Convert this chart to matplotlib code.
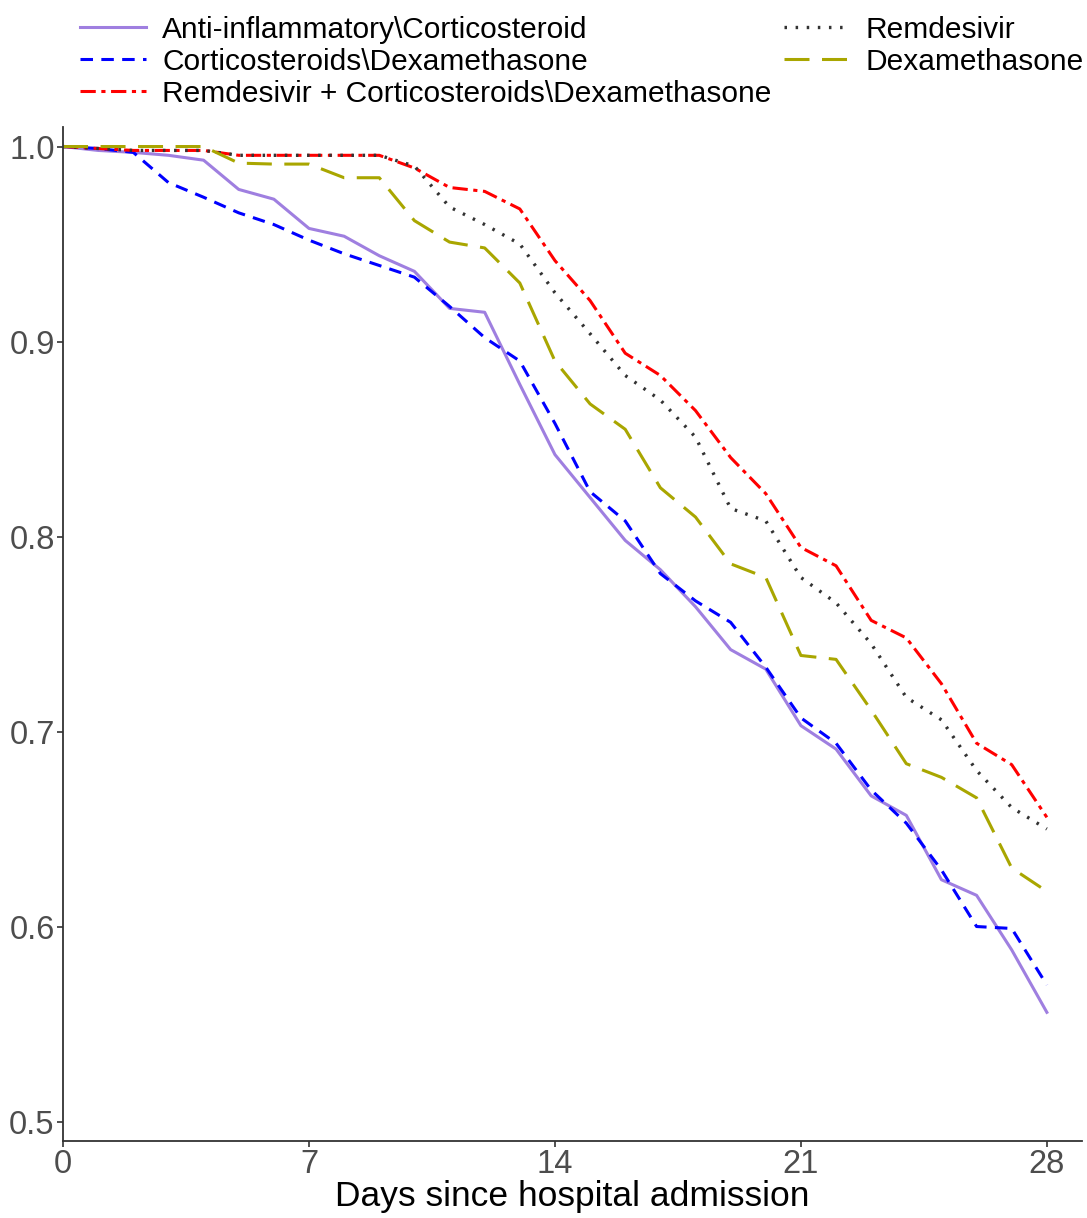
import numpy as np
import matplotlib
matplotlib.use("Agg")
import matplotlib.pyplot as plt

plt.rcParams['font.family'] = ['Liberation Sans', 'DejaVu Sans']
plt.rcParams['lines.scale_dashes'] = False

days = np.arange(0, 29)

anti_inflam = [1.000, 0.998, 0.997, 0.9955, 0.993, 0.978, 0.973, 0.958, 0.954, 0.944,
               0.936, 0.917, 0.915, 0.878, 0.842, 0.820, 0.798, 0.783, 0.764, 0.742,
               0.732, 0.703, 0.691, 0.667, 0.657, 0.624, 0.616, 0.588, 0.556]
cortico = [1.000, 0.999, 0.997, 0.9815, 0.974, 0.966, 0.960, 0.952, 0.945, 0.939,
           0.933, 0.918, 0.902, 0.890, 0.858, 0.823, 0.808, 0.781, 0.767, 0.756,
           0.733, 0.707, 0.694, 0.670, 0.653, 0.629, 0.600, 0.599, 0.570]
remd_cort = [1.000, 0.999, 0.998, 0.998, 0.998, 0.9955, 0.9955, 0.9955, 0.9955, 0.9955,
             0.989, 0.979, 0.977, 0.968, 0.9415, 0.921, 0.894, 0.8826, 0.8646, 0.8405,
             0.822, 0.7944, 0.785, 0.757, 0.748, 0.7245, 0.694, 0.683, 0.656]
remdesivir = [1.000, 0.999, 0.998, 0.998, 0.998, 0.9955, 0.9955, 0.9955, 0.9955, 0.9955,
              0.990, 0.969, 0.960, 0.950, 0.925, 0.904, 0.8826, 0.870, 0.851, 0.8144,
              0.808, 0.779, 0.766, 0.745, 0.7175, 0.706, 0.680, 0.661, 0.650]
dexa = [1.000, 1.000, 1.000, 1.000, 1.000, 0.9915, 0.991, 0.991, 0.984, 0.984,
        0.962, 0.951, 0.948, 0.930, 0.890, 0.868, 0.855, 0.825, 0.810, 0.786,
        0.779, 0.739, 0.737, 0.711, 0.6835, 0.6765, 0.666, 0.630, 0.618]

labels = ["Anti-inflammatory\\Corticosteroid", "Corticosteroids\\Dexamethasone",
          "Remdesivir + Corticosteroids\\Dexamethasone", "Remdesivir", "Dexamethasone"]

fig = plt.figure(figsize=(10.87, 12.18), dpi=100)
ax = fig.add_axes([0.058, 0.0632, 0.9374, 0.8325])

ax.plot(days, anti_inflam, color='#9F7FE0', lw=2.2, label=labels[0])
ax.plot(days, cortico, color='#0000FF', lw=2.2, dashes=(9, 6), label=labels[1])
ax.plot(days, remd_cort, color='#FF0000', lw=2.2, dashes=(11, 4, 3, 4), label=labels[2])
ax.plot(days, remdesivir, color='#333333', lw=2.4, dashes=(1.8, 6.2), label=labels[3])
ax.plot(days, dexa, color='#A9A600', lw=2.2, dashes=(18, 9), label=labels[4])

ax.set_xlim(0, 29)
ax.set_ylim(0.49, 1.01)
ax.set_xticks([0, 7, 14, 21, 28])
ax.set_yticks([0.5, 0.6, 0.7, 0.8, 0.9, 1.0])
ax.set_yticklabels(['0.5', '0.6', '0.7', '0.8', '0.9', '1.0'])
ax.tick_params(labelsize=23.5, colors='#333333', labelcolor='#4D4D4D', length=4, width=1.2, pad=2)
ax.set_xlabel("Days since hospital admission", fontsize=25.5, labelpad=0)
for s in ['top', 'right']:
    ax.spines[s].set_visible(False)
for s in ['left', 'bottom']:
    ax.spines[s].set_linewidth(1.3)
    ax.spines[s].set_color('#333333')

fig.legend(loc='upper left', bbox_to_anchor=(0.049, 1.009), ncol=2, frameon=False,
           fontsize=21.5, handlelength=2.2, handletextpad=0.55, columnspacing=0.4,
           labelspacing=0.13)

fig.savefig("out.png", dpi=100)
